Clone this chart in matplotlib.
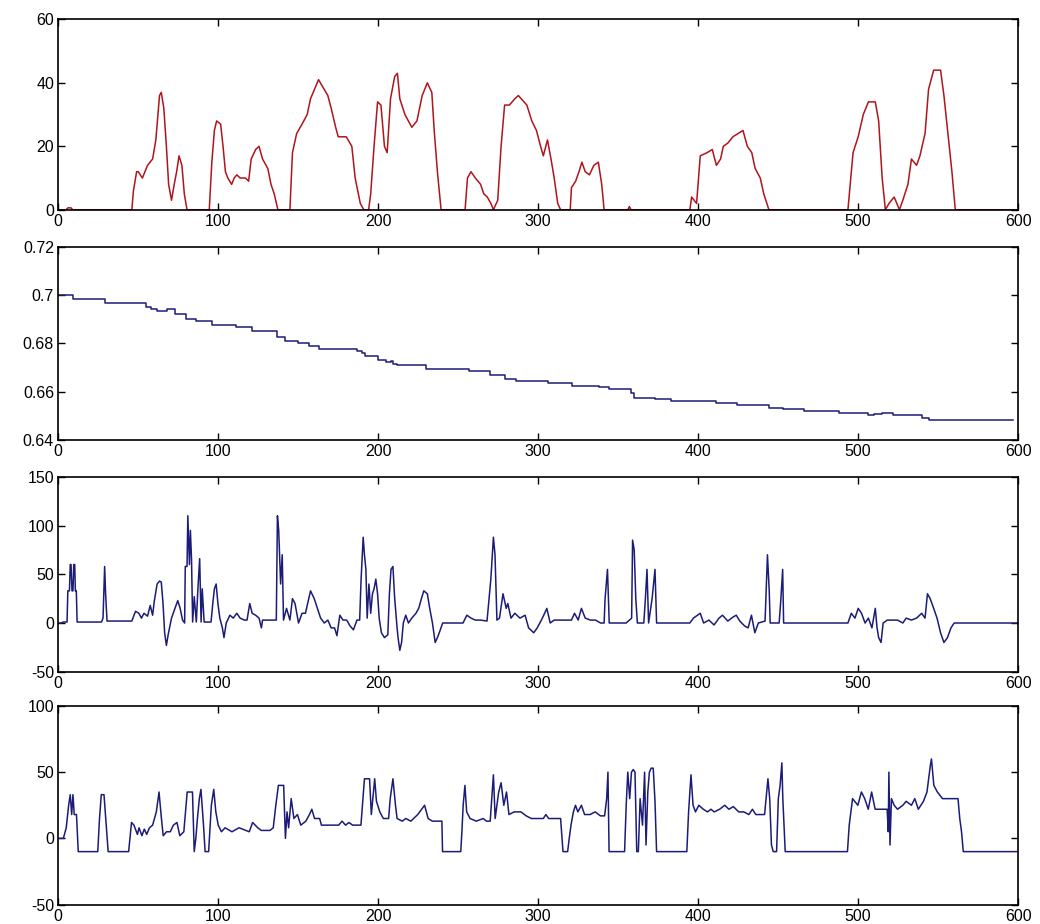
import matplotlib
matplotlib.use('Agg')
import matplotlib.pyplot as plt

# Panel 1 (red trace)
x1 = [0, 5, 6, 8, 9, 46, 47, 49, 50, 52.6, 55.8, 59, 61, 63.3, 64.4, 66, 67.6, 69, 70.8, 72.5,
      74, 75.5, 77.3, 78.8, 80.5, 94.4, 96, 97.6, 99, 101.5, 103, 104.5, 106, 108.4, 110, 111.6,
      113.7, 117, 119, 120.6, 123.4, 125.5, 127.7, 131, 133, 135, 137.3, 144.8, 146.4, 149, 152.4,
      155.6, 157.7, 161, 162.7, 165, 168.5, 170.6, 173.4, 175, 180, 183.5, 185.6, 188.8, 191, 194,
      195.3, 197.4, 199.6, 201.7, 203.9, 205.6, 207.7, 210.3, 212, 213.5, 216.7, 221, 224.2, 227.5,
      230.7, 233.5, 235, 237, 239.3, 254.3, 255.8, 258, 260.7, 264, 266, 268.2, 270.4, 272, 274.7,
      276.8, 279, 282, 285.4, 287.6, 292.9, 296, 298.9, 301.5, 303.2, 305.8, 308, 310, 312.2, 314,
      320, 320.8, 323.4, 325.5, 327.3, 329.4, 332, 334.8, 337.6, 339.7, 341.2, 356, 357, 358,
      394.8, 395.9, 399, 401.3, 405.6, 408.8, 411.4, 414, 415.7, 418.5, 421.7, 424.9, 428, 430.7,
      433.5, 435.6, 438.8, 441, 444.2, 493.6, 496.8, 500, 503.2, 506.4, 510.7, 512.8, 515, 517,
      519.3, 522.5, 525.8, 527.9, 531.1, 533.3, 536.5, 538.6, 541.8, 544, 547.2, 551.5, 553.6,
      555.7, 558.6, 560.7, 600]
y1 = [0, 0, 0.6, 0.6, 0, 0, 6, 12, 12, 10, 14, 16, 22, 36, 37, 32, 20, 8, 3, 8,
      12, 17, 14, 5, 0, 0, 15, 25, 28, 27, 20, 12, 10, 8, 10, 11,
      10, 10, 9, 16, 19, 20, 16, 13, 8, 5, 0, 0, 18, 24, 27,
      30, 35, 39, 41, 39, 36, 32, 26, 23, 23, 20, 10, 2, 0, 0,
      5, 20, 34, 33, 20, 18, 35, 42, 43, 35, 30, 26, 28, 36,
      40, 37, 25, 12, 0, 0, 10, 12, 10, 8, 5, 4, 2, 0, 3,
      20, 33, 33, 35, 36, 33, 28, 25, 20, 17, 22, 16, 10, 2, 0,
      0, 7, 9, 12, 15, 12, 11, 14, 15, 8, 0, 0, 1, 0,
      0, 4, 2, 17, 18, 19, 14, 16, 20, 21, 23, 24, 25, 20,
      18, 13, 10, 5, 0, 0, 18, 23, 30, 34, 34, 28, 10, 0,
      2, 4, 0, 3, 8, 16, 14, 17, 24, 38, 44, 44, 36,
      26, 12, 0, 0]

# Panel 2 (stepwise decreasing level)
x2 = [0, 9, 29, 55, 58, 62, 68, 73, 80, 86, 96, 111, 121, 137, 142, 150, 157, 163, 187, 190,
      192, 200, 205, 208, 209, 212, 218, 230, 257, 270, 279, 286, 289, 306, 321, 338, 344, 358,
      360, 373, 383, 411, 424, 444, 453, 466, 488, 506, 510, 515, 522, 540, 544, 597]
y2 = [0.7000, 0.6985, 0.6968, 0.6952, 0.6940, 0.6933, 0.6943, 0.6923, 0.6901, 0.6891,
      0.6877, 0.6867, 0.6850, 0.6828, 0.6810, 0.6800, 0.6789, 0.6776, 0.6769, 0.6760,
      0.6747, 0.6730, 0.6723, 0.6728, 0.6715, 0.6712, 0.6708, 0.6694, 0.6685, 0.6667,
      0.6650, 0.6643, 0.6642, 0.6634, 0.6624, 0.6617, 0.6610, 0.6596, 0.6575, 0.6568,
      0.6561, 0.6552, 0.6544, 0.6533, 0.6526, 0.6519, 0.6510, 0.6501, 0.6509, 0.6510,
      0.6502, 0.6491, 0.6484, 0.6484]

# Panel 3 (spiky trace)
x3 = [0, 2, 3, 5.5, 6, 7, 7.5, 8, 8.6, 9.2, 9.7, 10.3, 10.7, 11.3, 11.8, 27, 28, 29, 29.6, 30.5,
      46, 48.3, 50.4, 52, 53.6, 55.8, 57.5, 59, 60, 61.8, 63.3, 64.4, 65.5, 66.5, 67.6, 68.7,
      70.8, 73, 74.7, 76.2, 77.7, 79, 79.4, 80.5, 81, 82, 82.6, 83.3, 84, 85, 86.3, 87.3, 88.4,
      89.3, 90, 91.2, 95.5, 96.6, 97.6, 98.7, 99.8, 101, 102.6, 103.6, 105, 107.3, 109.4, 111.6,
      113.7, 116.3, 118, 119.7, 121.2, 123.4, 125.5, 127, 127.7, 136.3, 137, 137.8, 139, 140,
      140.8, 142.7, 144.8, 146.4, 148, 150.2, 152.4, 154.5, 157.7, 160, 162, 164, 166.3, 168.5,
      170.6, 172.7, 174.2, 176, 178, 180.3, 182.4, 184.5, 186.7, 188.4, 189.3, 190.6, 191.4,
      192.3, 193.1, 194.2, 195.3, 196.4, 197.4, 198.5, 199.6, 200.6, 202, 203.9, 206, 207, 208,
      209.2, 210.3, 211.8, 212.4, 213.5, 214.6, 215.7, 217.2, 218.9, 221, 223.6, 225.3, 227,
      228.5, 230.7, 232.2, 233.9, 235.6, 237, 238.6, 240.3, 253, 255.4, 258, 260.7, 264, 268,
      270.4, 272, 273, 274.2, 275.8, 278, 280, 281, 283, 285.4, 288.6, 291.8, 294, 297.2, 299.4,
      302.6, 305.4, 307.5, 310, 320.8, 322.7, 325, 327, 329.4, 332.6, 335.8, 339, 341.2, 341.8,
      343.3, 344.4, 355, 358.4, 359, 360, 361, 362, 366, 367, 368, 369, 371.2, 373, 374, 394.8,
      397, 401.3, 403.4, 406.7, 409.9, 413, 415.2, 418.5, 421.7, 423.8, 426, 429, 431.2, 433.3,
      435.4, 437.6, 441.8, 443.3, 444.4, 445, 450.6, 451.7, 452.8, 453.4, 493.6, 495.7, 498, 500,
      502.1, 504.3, 506.4, 508.6, 510.7, 511.8, 512.8, 514.3, 515.6, 518.2, 524.6, 527.9, 530,
      533.3, 536.5, 539.7, 541.8, 543.3, 545, 547.2, 549.3, 551.5, 553.6, 555.8, 558, 560, 600]
y3 = [0, 0, 1, 1, 33, 33, 60, 60, 33, 33, 60, 60, 33, 33, 1, 1, 5, 58, 30, 2,
      2, 12, 10, 5, 10, 7, 18, 8, 22, 40, 43, 42, 20, -10, -23, -12,
      5, 15, 23, 15, 3, 0, 58, 58, 110, 60, 95, 66, 1, 27, 1, 35, 66,
      1, 35, 1, 1, 20, 35, 40, 20, 5, -5, -15, 0, 8, 5, 10,
      5, 3, 3, 20, 10, 8, 5, -5, 3, 3, 110, 95, 40, 70,
      3, 15, 3, 25, 20, 0, 10, 10, 33, 25, 15, 5, 0, 3,
      -5, -5, -13, 8, 3, 3, -3, -7, 3, 3, 45, 88, 70,
      55, 5, 40, 10, 30, 35, 45, 30, 5, -10, -15, -12, 30, 55,
      58, 25, -5, -15, -28, -20, 0, 8, 0, 5, 10, 15, 25,
      33, 30, 15, 0, -20, -15, -8, 0, 0, 8, 5, 3, 3, 2,
      45, 88, 70, 3, 5, 30, 15, 20, 5, 10, 5, 8, -5, -10, -5,
      5, 15, 0, 3, 3, 10, 3, 15, 5, 3, 3, 0, 0, 25,
      55, 0, 0, 5, 85, 75, 25, 0, 0, 25, 55, 0, 25, 55, 0, 0,
      5, 10, 0, 3, -2, 5, 8, 2, 6, 8, 2, -3, -5, 8,
      -10, 0, 2, 70, 33, 0, 0, 25, 55, 0, 0, 10, 5, 15,
      10, 0, 5, -5, 15, -5, -15, -20, 0, 3, 3, 0, 5,
      3, 5, 10, 5, 30, 25, 15, 5, -10, -20, -15, -5, 0, 0]

# Panel 4 (level trace with -10 floor)
x4 = [0, 3.2, 5, 6.5, 7.5, 8.4, 9.2, 10, 11.4, 12.5, 24.7, 25.8, 26.9, 28.6, 29.5, 31.2, 44,
      45.8, 47.3, 49.5, 50.5, 52.3, 53.8, 55.3, 57, 59, 61.3, 63, 64.5, 65.6, 67.7, 70, 72,
      74.2, 76, 78.5, 80.6, 83.9, 85, 86, 87, 88.2, 89.2, 90.8, 91.8, 94, 95.7, 97.2, 98.5,
      100, 102, 104.3, 108.6, 113, 119.4, 121.5, 124.7, 126.9, 132.3, 134.4, 136, 137.6, 140.9,
      142, 143, 144, 145.6, 147.3, 149.5, 151.6, 154.8, 157, 158.5, 160.2, 163.4, 164.5, 175.3,
      177.4, 179.6, 181.7, 184, 189.2, 190.3, 191.4, 194.6, 195.7, 197.8, 198.9, 201, 203.2,
      206.5, 207.5, 209.2, 210.8, 211.8, 215, 217.2, 220.4, 224.7, 229, 231.2, 233.8, 239.8,
      240.2, 251.6, 252.3, 253.1, 254.2, 255.3, 257.4, 261.3, 265.6, 267.7, 270, 272, 273.1,
      275.3, 276.8, 278.5, 280.2, 281.7, 285, 289.2, 292.5, 295.7, 303.2, 304.8, 306.5, 314,
      315.5, 318.4, 319.4, 320.5, 322, 323.3, 324.8, 327, 329, 332.4, 335.6, 338.9, 341.5,
      342.8, 343.6, 344.3, 354, 355, 356, 357.2, 358.3, 359.4, 360.5, 361.6, 362.6, 363.7,
      365.2, 366.5, 367.4, 368.5, 369.5, 370.6, 371.9, 373, 374, 392.9, 394, 395.5, 396.8,
      398.3, 400.4, 403.2, 405.8, 408, 410, 413.4, 416.6, 419.2, 422, 425.3, 428.5, 431.7,
      433.9, 436, 441.5, 443.6, 444.7, 445.8, 446.9, 449, 450.1, 451.2, 452.3, 452.9, 454.4,
      493.3, 494.4, 496.5, 499.8, 502, 504.1, 506.3, 508.4, 510.6, 513.8, 518.1, 518.8, 519.2,
      519.9, 520.8, 522.5, 524.6, 527.9, 530, 533.3, 535.4, 537.6, 540.8, 543, 545.1, 545.8,
      547.3, 549.5, 552.7, 562.4, 563.5, 564.6, 565.7, 600]
y4 = [0, 0, 8, 25, 33, 18, 33, 18, 18, -10, -10, 15, 33, 33, 18, -10, -10,
      12, 10, 3, 8, 2, 7, 3, 8, 10, 20, 35, 15, 2, 5, 5, 10,
      12, 2, 5, 35, 35, -10, 0, 15, 30, 37, 10, -10, -10, 25, 37, 20,
      10, 5, 8, 5, 8, 5, 12, 8, 6, 6, 8, 25, 40, 40,
      0, 20, 8, 30, 15, 18, 10, 13, 18, 22, 15, 15, 10, 10,
      13, 10, 12, 10, 10, 28, 45, 45, 18, 45, 28, 20, 15,
      15, 30, 45, 25, 15, 13, 15, 13, 18, 25, 15, 13, 13,
      -10, -10, 5, 25, 40, 20, 15, 13, 15, 13, 13, 48, 15,
      35, 42, 25, 35, 18, 20, 20, 17, 15, 15, 18, 15, 15,
      -10, -10, 0, 10, 20, 25, 20, 25, 18, 18, 20, 17, 17,
      30, 50, -10, -10, 25, 50, 30, 50, 52, 50, -10, -10, 30,
      10, 50, -5, 35, 50, 53, 53, 28, -10, -10, 20, 48, 25,
      20, 25, 22, 20, 22, 20, 22, 25, 22, 24, 20, 20, 18,
      22, 18, 18, 45, 30, -5, -10, -10, 30, 40, 57, 30, -10,
      -10, 10, 30, 25, 35, 30, 22, 35, 22, 22, 22, 5, 50,
      -5, 30, 25, 22, 25, 28, 25, 30, 22, 28, 35, 55, 60,
      40, 35, 30, 30, 15, 5, -10, -10]

ylims = [(0, 60), (0.64, 0.72), (-50, 150), (-50, 100)]
yticks = [[0, 20, 40, 60],
          [0.64, 0.66, 0.68, 0.70, 0.72],
          [-50, 0, 50, 100, 150],
          [-50, 0, 50, 100]]
ytick_labels = [['0', '20', '40', '60'],
                ['0.64', '0.66', '0.68', '0.7', '0.72'],
                ['-50', '0', '50', '100', '150'],
                ['-50', '0', '50', '100']]

plt.rcParams['font.family'] = ['Liberation Sans', 'DejaVu Sans']

fig = plt.figure(figsize=(10.4, 9.24), dpi=100)
# axes boxes in figure fractions (left, bottom, width, height)
boxes = [(0.056, 0.773, 0.923, 0.206),
         (0.056, 0.524, 0.923, 0.209),
         (0.056, 0.273, 0.923, 0.211),
         (0.056, 0.021, 0.923, 0.215)]

red = '#b0141c'
navy = '#1c1c78'

axes = [fig.add_axes(b) for b in boxes]
axes[0].plot(x1, y1, color=red, lw=1.1)
axes[1].plot(x2, y2, color=navy, lw=1.1, drawstyle='steps-post')
axes[2].plot(x3, y3, color=navy, lw=1.1)
axes[3].plot(x4, y4, color=navy, lw=1.1)

for i, ax in enumerate(axes):
    ax.set_xlim(0, 600)
    ax.set_ylim(*ylims[i])
    ax.set_xticks(range(0, 601, 100))
    ax.set_yticks(yticks[i])
    ax.set_yticklabels(ytick_labels[i])
    ax.tick_params(direction='in', top=True, right=True, length=5, width=1.0,
                   labelsize=11.5, pad=3, colors='black')
    for s in ax.spines.values():
        s.set_linewidth(1.2)
        s.set_color('black')

fig.savefig('out.png', dpi=100)
